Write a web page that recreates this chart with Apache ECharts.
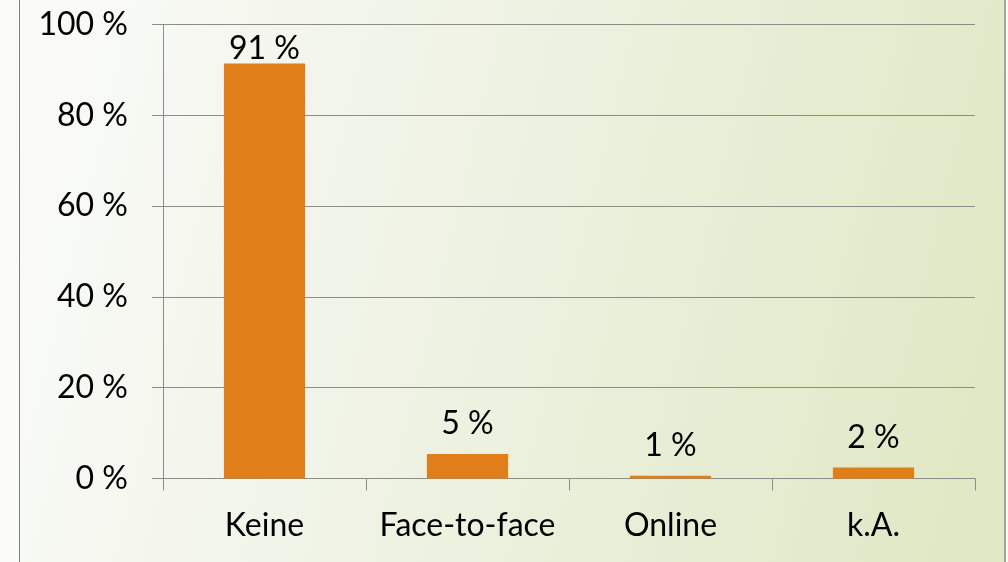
<!DOCTYPE html>
<html>
<head>
<meta charset="utf-8">
<style>
html,body{margin:0;padding:0;background:#fbfcf9;}
#chart{width:1008px;height:562px;}
</style>
<script src="https://cdn.jsdelivr.net/npm/echarts@6/dist/echarts.min.js"></script>
</head>
<body>
<div id="chart"></div>
<script>
var categories = ['Keine', 'Face-to-face', 'Online', 'k.A.'];
var values = [91.4, 5.4, 0.6, 2.4];
var yTicks = [0, 20, 40, 60, 80, 100];

var FONT = 'Lato';
var chart = echarts.init(document.getElementById('chart'));

var seriesData = values.map(function (v, i) {
  var item = { value: v };
  if (i === 0) { item.label = { distance: -1 }; }
  return item;
});

chart.setOption({
  backgroundColor: 'transparent',
  animation: false,
  graphic: [
    {
      type: 'rect',
      z: -10,
      shape: { x: 19.5, y: -10, width: 985, height: 590 },
      style: {
        fill: new echarts.graphic.LinearGradient(0, 0.2, 1, 0.6, [
          { offset: 0, color: '#fafbf8' },
          { offset: 0.4, color: '#f0f3e6' },
          { offset: 1, color: '#e0e8c5' }
        ]),
        stroke: 'none'
      }
    },
    {
      type: 'line', z: -5,
      shape: { x1: 19.5, y1: 0, x2: 19.5, y2: 562 },
      style: { stroke: '#7f7f7f', lineWidth: 1 }
    },
    {
      type: 'line', z: -5,
      shape: { x1: 1005, y1: 0, x2: 1005, y2: 562 },
      style: { stroke: '#a3a59c', lineWidth: 2 }
    }
  ],
  grid: { left: 163, right: 33, top: 24.5, bottom: 83.5, containLabel: false },
  xAxis: {
    type: 'category',
    data: categories,
    boundaryGap: true,
    axisLine: { show: true, lineStyle: { color: '#8c8c8c', width: 1 } },
    axisTick: { show: true, interval: 0, length: 12, alignWithLabel: false, lineStyle: { color: '#8c8c8c' } },
    axisLabel: { interval: 0, color: '#000', fontFamily: FONT, fontSize: 32, margin: 31 },
    splitLine: { show: false }
  },
  yAxis: {
    type: 'value',
    min: yTicks[0],
    max: yTicks[yTicks.length - 1],
    interval: 20,
    axisLine: { show: true, lineStyle: { color: '#8c8c8c', width: 1 } },
    axisTick: { show: true, inside: false, length: 11, lineStyle: { color: '#8c8c8c' } },
    axisLabel: {
      color: '#000', fontFamily: FONT, fontSize: 32, margin: 35,
      formatter: function (v) { return v + ' %'; }
    },
    splitLine: { show: true, lineStyle: { color: '#8c8c8c', width: 1 } }
  },
  series: [{
    type: 'bar',
    data: seriesData,
    barWidth: '40%',
    itemStyle: { color: '#e07e1a' },
    label: {
      show: true,
      position: 'top',
      distance: 14,
      color: '#000',
      fontFamily: FONT,
      fontSize: 32,
      formatter: function (p) { return Math.round(p.value) + ' %'; }
    }
  }]
});
</script>
</body>
</html>
